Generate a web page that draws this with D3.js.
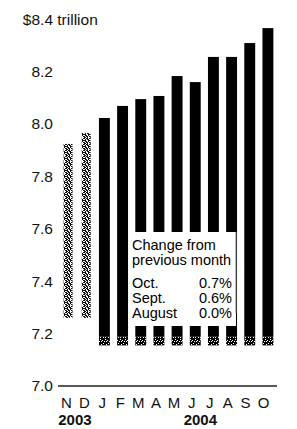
<!DOCTYPE html>
<html>
<head>
<meta charset="utf-8">
<script src="https://cdn.jsdelivr.net/npm/d3@7"></script>
<style>
  body { margin: 0; background: #fff; }
  svg { display: block; font-family: "Liberation Sans", Arial, sans-serif; }
</style>
</head>
<body>
<div id="chart-area"></div>
<script>
// data ($ trillion)
const months = ["N03", "D03", "J04", "F04", "M04", "A04", "M204", "J04b", "J04c", "A04b", "S04", "O04"];
const monthLabels = ["N", "D", "J", "F", "M", "A", "M", "J", "J", "A", "S", "O"];
const values = [7.924, 7.966, 8.023, 8.069, 8.095, 8.107, 8.183, 8.16, 8.256, 8.256, 8.309, 8.366];
const stippled = [true, true, false, false, false, false, false, false, false, false, false, false];
const yTicks = [7.0, 7.2, 7.4, 7.6, 7.8, 8.0, 8.2];
const years = ["2003", "2004"];
const yearAt = [0.5, 7.5]; // position along month labels
const legendTitle = ["Change from", "previous month"];
const legendNames = ["Oct.", "Sept.", "August"];
const legendValues = ["0.7%", "0.6%", "0.0%"];

const width = 297, height = 429;
const breakValue = 7.19;   // bars drawn solid down to here
const tornValue = 7.155;   // ragged ends
const stipBottom = 7.26;

const svg = d3.select("#chart-area")
    .append("svg")
    .attr("width", width)
    .attr("height", height);

const y = d3.scaleLinear().domain([7.0, 8.4]).range([386, 19.2]);
const x = d3.scaleBand().domain(months).range([59, 277]).paddingInner(0.4).paddingOuter(0.2);
const xl = d3.scalePoint().domain(months).range([66, 263]);

// stipple texture
const defs = svg.append("defs");
const bits = ["101101", "010110", "110011", "011010", "101101", "110100"];
const pat = defs.append("pattern")
    .attr("id", "stip")
    .attr("patternUnits", "userSpaceOnUse")
    .attr("width", 6).attr("height", 6);
pat.append("rect").attr("width", 6).attr("height", 6).attr("fill", "#fff");
bits.forEach((row, r) => {
    row.split("").forEach((b, c) => {
        if (b === "1") pat.append("rect").attr("x", c).attr("y", r).attr("width", 1).attr("height", 1).attr("fill", "#111");
    });
});
const torn = defs.append("pattern")
    .attr("id", "torn")
    .attr("patternUnits", "userSpaceOnUse")
    .attr("width", 5).attr("height", 9);
torn.append("rect").attr("width", 5).attr("height", 9).attr("fill", "#000");
[[1, 2], [3, 4], [0, 6], [2, 7], [4, 8], [1, 8], [3, 1], [0, 4]].forEach(p => {
    torn.append("rect").attr("x", p[0]).attr("y", p[1]).attr("width", 1).attr("height", 1).attr("fill", "#fff");
});

// bars
const bars = svg.append("g");
months.forEach((m, i) => {
    if (stippled[i]) {
        bars.append("rect")
            .attr("x", x(m) + 1)
            .attr("y", y(values[i]))
            .attr("width", x.bandwidth() - 2)
            .attr("height", y(stipBottom) - y(values[i]))
            .attr("fill", "url(#stip)");
    } else {
        bars.append("rect")
            .attr("x", x(m))
            .attr("y", y(values[i]))
            .attr("width", x.bandwidth())
            .attr("height", y(breakValue) - y(values[i]))
            .attr("fill", "#000");
        bars.append("rect")
            .attr("x", x(m))
            .attr("y", y(breakValue))
            .attr("width", x.bandwidth())
            .attr("height", y(tornValue) - y(breakValue))
            .attr("fill", "url(#torn)");
    }
});

// legend box
const lg = svg.append("g");
lg.append("rect").attr("x", 130).attr("y", 232).attr("width", 106).attr("height", 94).attr("fill", "#fff");
lg.append("line").attr("x1", 236).attr("x2", 236).attr("y1", 232).attr("y2", 313)
    .attr("stroke", "#777").attr("stroke-width", 1);
legendTitle.forEach((t, i) => {
    lg.append("text").attr("x", 132).attr("y", 250 + i * 14.5)
        .attr("font-size", "14.5px").attr("fill", "#000").text(t);
});
legendNames.forEach((t, i) => {
    lg.append("text").attr("x", 132).attr("y", 288 + i * 15)
        .attr("font-size", "14.5px").attr("fill", "#000").text(t);
    lg.append("text").attr("x", 232).attr("y", 288 + i * 15)
        .attr("text-anchor", "end")
        .attr("font-size", "14.5px").attr("fill", "#000").text(legendValues[i]);
});

// y labels
const yl = svg.append("g");
yTicks.forEach(v => {
    yl.append("text").attr("x", 53).attr("y", y(v)).attr("dy", "0.35em")
        .attr("text-anchor", "end").attr("font-size", "15.5px").attr("fill", "#111")
        .text(d3.format(".1f")(v));
});
yl.append("text").attr("x", 53).attr("y", y(8.4)).attr("dy", "0.35em")
    .attr("text-anchor", "end").attr("font-size", "15.5px").attr("fill", "#111").text("$8.4");
yl.append("text").attr("x", 53).attr("y", y(8.4)).attr("dy", "0.35em")
    .attr("font-size", "15.5px").attr("fill", "#111").text(" trillion").attr("xml:space", "preserve");

// x axis
const xAxis = svg.append("g")
    .attr("transform", `translate(0, ${y(7.0)})`)
    .call(d3.axisBottom(xl).tickSize(0).tickPadding(0).tickFormat((d, i) => monthLabels[i]));
xAxis.select(".domain").remove();
xAxis.selectAll("text")
    .attr("y", 22).attr("dy", 0)
    .attr("font-family", "Liberation Sans, Arial, sans-serif")
    .attr("font-size", "15px").attr("fill", "#111");
svg.append("line")
    .attr("x1", 58).attr("x2", 277)
    .attr("y1", y(7.0)).attr("y2", y(7.0))
    .attr("stroke", "#222").attr("stroke-width", 1.3);

// years
const step = xl.step();
years.forEach((t, i) => {
    svg.append("text")
        .attr("x", xl.range()[0] + yearAt[i] * step)
        .attr("y", 425)
        .attr("text-anchor", "middle")
        .attr("font-size", "15px").attr("font-weight", "bold").attr("fill", "#111")
        .text(t);
});
</script>
</body>
</html>
